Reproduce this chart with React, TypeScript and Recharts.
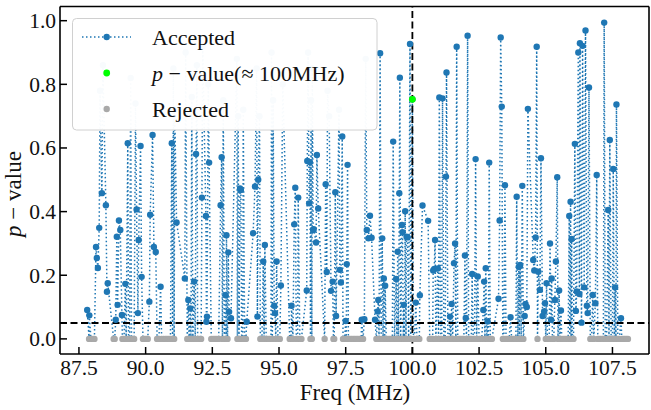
import React from 'react';
import { ComposedChart, Line, Scatter, XAxis, YAxis, ReferenceLine } from 'recharts';

// ---------- data ----------
const acceptedFreqs = [
  87.81, 87.89, 88.14, 88.17, 88.21, 88.26, 88.29, 88.36, 88.4, 88.51, 88.55, 88.58,
  88.88, 88.92, 88.95, 89.0, 89.05, 89.11, 89.24, 89.33, 89.44, 89.62, 89.66, 89.71,
  89.74, 89.81, 89.85, 90.14, 90.17, 90.26, 90.31, 90.38, 90.56, 90.98, 91.04, 91.09,
  91.16, 91.47, 91.5, 91.6, 91.67, 91.73, 91.82, 91.89, 91.92, 92.11, 92.14, 92.26,
  92.28, 92.3, 92.35, 92.38, 92.81, 92.85, 92.91, 93.0, 93.03, 93.1, 93.13, 93.2,
  93.42, 93.47, 93.54, 93.57, 93.66, 93.79, 94.03, 94.1, 94.16, 94.19, 94.22, 94.27,
  94.41, 94.47, 94.72, 94.78, 94.82, 94.85, 94.91, 95.07, 95.14, 95.47, 95.57, 95.61,
  95.72, 96.04, 96.06, 96.09, 96.13, 96.16, 96.2, 96.25, 96.28, 96.3, 96.39, 96.42,
  96.47, 96.75, 96.79, 96.82, 96.88, 96.95, 97.01, 97.11, 97.14, 97.25, 97.28, 97.32,
  97.37, 97.5, 97.54, 97.57, 98.1, 98.2, 98.25, 98.29, 98.35, 98.41, 98.47, 98.6,
  98.7, 98.72, 98.79, 98.87, 98.93, 98.98, 99.28, 99.39, 99.45, 99.51, 99.53, 99.61,
  99.63, 99.68, 99.73, 99.78, 99.82, 99.91, 100.13, 100.28, 100.38, 100.59, 100.78, 100.82,
  100.85, 100.95, 101.01, 101.13, 101.26, 101.28, 101.41, 101.47, 101.56, 101.6, 101.66, 101.97,
  102.0, 102.07, 102.24, 102.37, 102.45, 102.66, 102.69, 102.75, 102.82, 102.88, 103.23, 103.27,
  103.31, 103.35, 103.47, 103.68, 103.91, 103.99, 104.04, 104.12, 104.21, 104.24, 104.29, 104.33,
  104.53, 104.57, 104.62, 104.66, 104.72, 104.78, 104.82, 104.88, 104.94, 104.97, 105.03, 105.16,
  105.2, 105.22, 105.34, 105.38, 105.43, 105.5, 105.57, 105.88, 105.93, 105.97, 106.09, 106.13,
  106.16, 106.22, 106.26, 106.28, 106.34, 106.38, 106.44, 106.49, 106.54, 106.57, 106.62, 106.76,
  106.86, 106.91, 107.19, 107.34, 107.4, 107.53, 107.6, 107.65, 107.82,
];

const acceptedPValues = [
  0.091, 0.074, 0.289, 0.254, 0.223, 0.349, 0.78, 0.458, 0.86, 0.42, 0.148, 0.175,
  0.06, 0.321, 0.107, 0.372, 0.342, 0.075, 0.173, 0.615, 0.82, 0.74, 0.407, 0.081,
  0.311, 0.606, 0.195, 0.117, 0.39, 0.641, 0.289, 0.273, 0.164, 0.615, 0.85, 0.72,
  0.366, 0.19, 0.9, 0.122, 0.096, 0.76, 0.18, 0.581, 0.86, 0.444, 0.92, 0.386,
  0.054, 0.07, 0.8, 0.554, 0.42, 0.571, 0.75, 0.137, 0.326, 0.272, 0.085, 0.065,
  0.88, 0.7, 0.473, 0.468, 0.72, 0.054, 0.332, 0.479, 0.85, 0.07, 0.5, 0.7,
  0.243, 0.295, 0.9, 0.75, 0.104, 0.081, 0.243, 0.168, 0.8, 0.104, 0.36, 0.475,
  0.444, 0.152, 0.559, 0.9, 0.426, 0.555, 0.75, 0.85, 0.342, 0.345, 0.303, 0.578,
  0.41, 0.486, 0.21, 0.78, 0.7, 0.151, 0.18, 0.461, 0.072, 0.72, 0.217, 0.177,
  0.636, 0.056, 0.235, 0.547, 0.06, 0.062, 0.88, 0.342, 0.316, 0.387, 0.318, 0.06,
  0.086, 0.122, 0.898, 0.316, 0.19, 0.167, 0.62, 0.188, 0.274, 0.458, 0.821, 0.358,
  0.335, 0.107, 0.401, 0.321, 0.319, 0.927, 0.114, 0.137, 0.419, 0.371, 0.215, 0.22,
  0.311, 0.221, 0.759, 0.756, 0.51, 0.837, 0.07, 0.11, 0.238, 0.3, 0.918, 0.262,
  0.066, 0.953, 0.204, 0.565, 0.196, 0.091, 0.18, 0.222, 0.055, 0.554, 0.126, 0.372,
  0.947, 0.73, 0.483, 0.068, 0.447, 0.227, 0.232, 0.481, 0.072, 0.11, 0.1, 0.723,
  0.248, 0.215, 0.319, 0.918, 0.211, 0.154, 0.568, 0.072, 0.086, 0.112, 0.175, 0.3,
  0.06, 0.19, 0.122, 0.243, 0.508, 0.152, 0.089, 0.386, 0.431, 0.314, 0.613, 0.088,
  0.149, 0.9, 0.141, 0.929, 0.051, 0.921, 0.162, 0.969, 0.104, 0.081, 0.79, 0.138,
  0.112, 0.515, 0.994, 0.405, 0.625, 0.534, 0.162, 0.737, 0.065,
];

const rejectedFreqs = [
  87.88, 87.95, 88.02, 88.08, 88.8, 88.84,
  89.13, 89.19, 89.27, 89.36, 89.4, 89.47, 89.52, 89.57,
  89.9, 89.96, 90.02, 90.08,
  90.43, 90.5, 90.6, 90.67, 90.74, 90.8, 90.87, 90.93, 91.01, 91.07,
  91.56, 91.63, 91.7, 91.77, 91.86, 91.95, 92.02, 92.08,
  92.46, 92.53, 92.6, 92.67, 92.74, 92.88, 92.95, 93.02, 93.07,
  93.44, 93.5, 93.6, 93.64, 93.71, 93.76,
  94.3, 94.36, 94.44, 94.52, 94.58, 94.64, 94.7, 94.75, 94.88, 94.96, 95.03,
  95.4, 95.45, 95.52, 95.65, 95.7, 95.78, 95.84,
  96.18, 96.23, 96.71, 97.04, 97.07,
  97.4, 97.46, 97.52, 97.6, 97.66, 97.72, 97.78, 97.84, 97.9, 97.96, 98.02, 98.08, 98.15,
  98.65, 98.75, 98.83, 98.9, 98.96, 99.02, 99.08, 99.14, 99.2, 99.25, 99.33, 99.42,
  99.48, 99.56, 99.66, 99.7, 99.76, 99.86, 99.94, 100.04, 100.08, 100.17, 100.22, 100.26,
  100.65, 100.71, 100.76, 100.88, 100.98, 101.06, 101.1, 101.18, 101.23, 101.33, 101.38,
  101.44, 101.51, 101.63, 101.7, 101.76, 101.82, 101.88, 101.93, 102.03, 102.11, 102.17,
  102.21, 102.28, 102.33, 102.41, 102.5, 102.55, 102.6, 102.72, 102.79, 102.85, 102.92, 102.98,
  103.39, 103.43, 103.51, 103.57, 103.63, 103.72, 103.78, 103.84, 103.88, 103.95, 104.01,
  104.08, 104.16, 104.69,
  105.0, 105.06, 105.1, 105.13, 105.25, 105.3, 105.46, 105.53, 105.6, 105.66, 105.72,
  105.78, 105.84, 105.9, 105.95, 106.0, 106.04,
  106.67, 106.72, 106.8, 106.95, 107.0, 107.06, 107.12, 107.16, 107.23, 107.28, 107.37,
  107.45, 107.5, 107.57, 107.63, 107.7, 107.76, 107.85, 107.9, 107.96, 108.02, 108.08,
];
const rejectedPValue = 0.0;

const targetFreqs = [100.0];
const targetPValues = [0.753];

const xTicks = [87.5, 90.0, 92.5, 95.0, 97.5, 100.0, 102.5, 105.0, 107.5];
const yTicks = [0.0, 0.2, 0.4, 0.6, 0.8, 1.0];
const significance = 0.05;
const centerFreq = 100.0;

// ---------- derived tables ----------
const acceptedData = acceptedFreqs.map((f, i) => ({ f, p: acceptedPValues[i], kind: 'a' }));
const rejectedData = rejectedFreqs.map((f) => ({ f, p: rejectedPValue, kind: 'r' }));
const targetData = targetFreqs.map((f, i) => ({ f, p: targetPValues[i], kind: 't' }));
const lineData = [...acceptedData, ...rejectedData, ...targetData].sort((a, b) => a.f - b.f);

const X_DOMAIN: [number, number] = [86.79, 108.87];
const Y_DOMAIN: [number, number] = [-0.0475, 1.0446];

const FONT = 'Liberation Serif, DejaVu Serif, Noto Serif, Times New Roman, serif';
const BLUE = '#1f77b4';
const GRAY = '#a9a9a9';
const GREEN = '#00ff00';
const INK = '#111';

const textStyle = { fontFamily: FONT } as React.CSSProperties;

const XTick = (props: any) => {
  const { x, y, payload } = props;
  return (
    <g>
      <line x1={x} x2={x} y1={y} y2={y - 7} stroke="#000" strokeWidth={1.5} />
      <text x={x} y={y + 21} textAnchor="middle" style={textStyle} fontSize={21.5} fill={INK}>
        {Number(payload.value).toFixed(1)}
      </text>
    </g>
  );
};

const YTick = (props: any) => {
  const { x, y, payload } = props;
  return (
    <g>
      <line x1={x} x2={x + 7} y1={y} y2={y} stroke="#000" strokeWidth={1.5} />
      <text x={x - 4} y={y + 7.5} textAnchor="end" style={textStyle} fontSize={21.5} fill={INK}>
        {Number(payload.value).toFixed(1)}
      </text>
    </g>
  );
};

const blueDot = (props: any) => {
  const { cx, cy, payload, index } = props;
  if (!payload || payload.kind === 'r' || cx == null || cy == null) return <g key={`bd-${index}`} />;
  return <circle key={`bd-${index}`} cx={cx} cy={cy} r={3.2} fill={BLUE} />;
};

const grayShape = (props: any) => <circle cx={props.cx} cy={props.cy} r={3.2} fill={GRAY} />;
const greenShape = (props: any) => <circle cx={props.cx} cy={props.cy} r={3.4} fill={GREEN} />;

export default function App() {
  return (
    <div style={{ position: 'absolute', left: 0, top: 0, width: 651, height: 410, background: '#fff' }}>
      <ComposedChart width={651} height={410} margin={{ top: 6.5, right: 2, bottom: 0, left: 0 }}>
        <XAxis
          type="number"
          dataKey="f"
          domain={X_DOMAIN}
          allowDataOverflow
          ticks={xTicks}
          interval={0}
          height={56}
          tickSize={0}
          tickMargin={0}
          tickLine={false}
          axisLine={{ stroke: '#000', strokeWidth: 1.6 }}
          tick={<XTick />}
        />
        <YAxis
          type="number"
          dataKey="p"
          domain={Y_DOMAIN}
          allowDataOverflow
          ticks={yTicks}
          interval={0}
          width={60}
          tickSize={0}
          tickMargin={0}
          tickLine={false}
          axisLine={{ stroke: '#000', strokeWidth: 1.6 }}
          tick={<YTick />}
        />
        <Line
          data={lineData}
          dataKey="p"
          type="linear"
          stroke={BLUE}
          strokeWidth={1.5}
          strokeDasharray="1.5 2.5"
          dot={blueDot}
          activeDot={false}
          isAnimationActive={false}
        />
        <Scatter data={rejectedData} dataKey="p" fill={GRAY} shape={grayShape} isAnimationActive={false} />
        <ReferenceLine x={centerFreq} stroke="#000" strokeWidth={1.8} strokeDasharray="7 3.5" />
        <ReferenceLine y={significance} stroke="#000" strokeWidth={1.8} strokeDasharray="7 3.5" />
        <Scatter data={targetData} dataKey="p" fill={GREEN} shape={greenShape} isAnimationActive={false} />
        <ReferenceLine y={Y_DOMAIN[1]} stroke="#000" strokeWidth={1.6} />
        <ReferenceLine x={X_DOMAIN[1]} stroke="#000" strokeWidth={1.6} />
      </ComposedChart>

      <svg
        width={651}
        height={410}
        style={{ position: 'absolute', left: 0, top: 0, pointerEvents: 'none' }}
      >
        {/* axis labels */}
        <text x={355} y={400} textAnchor="middle" style={textStyle} fontSize={23} fill={INK}>
          Freq (MHz)
        </text>
        <text
          transform="translate(21,194) rotate(-90)"
          textAnchor="middle"
          style={textStyle}
          fontSize={23}
          fill={INK}
        >
          <tspan fontStyle="italic">p</tspan>
          <tspan> − value</tspan>
        </text>

        {/* legend */}
        <rect x={72.5} y={18.5} width={304.5} height={111.5} rx={4} ry={4} fill="#fff" fillOpacity={0.97} stroke="#d0d0d0" strokeWidth={1} />
        <line x1={82} x2={131} y1={37} y2={37} stroke={BLUE} strokeWidth={1.5} strokeDasharray="1.5 2.5" />
        <circle cx={106.7} cy={37} r={3.2} fill={BLUE} />
        <text x={152} y={44.5} style={textStyle} fontSize={22} fill={INK}>Accepted</text>
        <circle cx={106.7} cy={73} r={3.4} fill={GREEN} />
        <text x={152} y={80.5} style={textStyle} fontSize={22} fill={INK}>
          <tspan fontStyle="italic">p</tspan>
          <tspan> − value(≈ 100MHz)</tspan>
        </text>
        <circle cx={106.7} cy={109} r={3.2} fill={GRAY} />
        <text x={152} y={116.5} style={textStyle} fontSize={22} fill={INK}>Rejected</text>
      </svg>
    </div>
  );
}
